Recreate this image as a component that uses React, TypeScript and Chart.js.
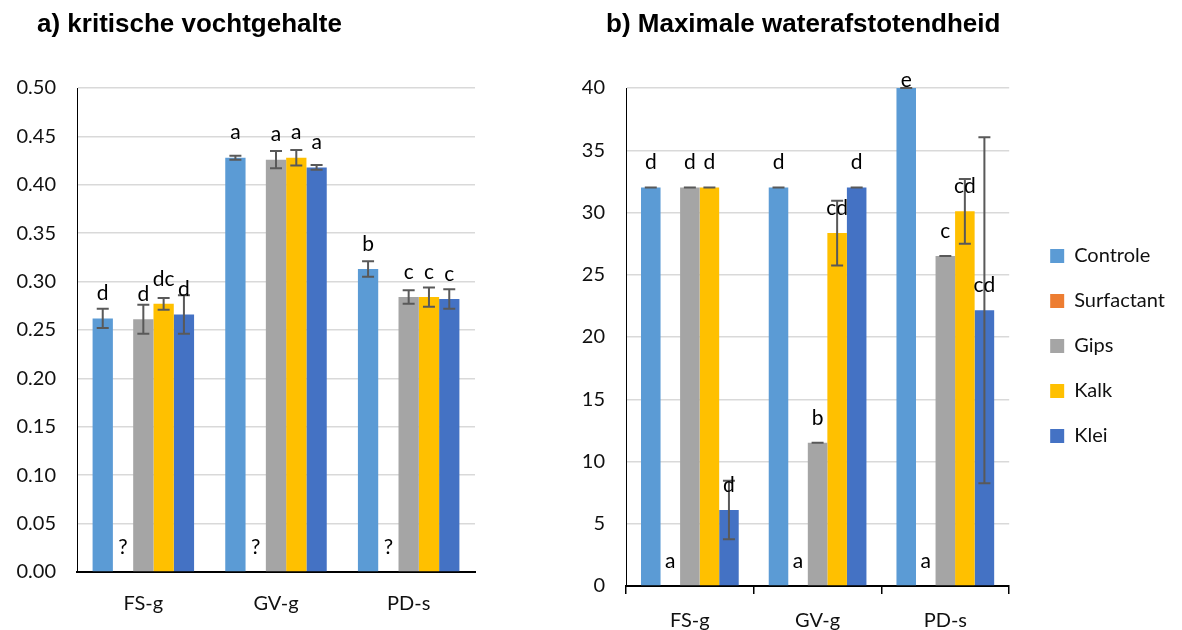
import React, { useEffect, useRef } from "react";
import { Chart, registerables } from "chart.js";

Chart.register(...registerables);

// ---------- data ----------
const categories = ["FS-g", "GV-g", "PD-s"];
const seriesNames = ["Controle", "Surfactant", "Gips", "Kalk", "Klei"];
const seriesColors = ["#5B9BD5", "#ED7D31", "#A5A5A5", "#FFC000", "#4472C4"];

// a) kritische vochtgehalte
const aControle = [0.262, 0.428, 0.313];
const aSurfactant = [0, 0, 0];
const aGips = [0.261, 0.426, 0.284];
const aKalk = [0.277, 0.428, 0.284];
const aKlei = [0.266, 0.418, 0.282];

const aErrControle = [0.01, 0.002, 0.008];
const aErrSurfactant = [null, null, null];
const aErrGips = [0.015, 0.009, 0.007];
const aErrKalk = [0.006, 0.008, 0.01];
const aErrKlei = [0.02, 0.0025, 0.01];

const aLetControle = ["d", "a", "b"];
const aLetSurfactant = ["?", "?", "?"];
const aLetGips = ["d", "a", "c"];
const aLetKalk = ["dc", "a", "c"];
const aLetKlei = ["d", "a", "c"];

const aTicks = { min: 0, max: 0.5, step: 0.05 };

// b) Maximale waterafstotendheid
const bControle = [32, 32, 40];
const bSurfactant = [0, 0, 0];
const bGips = [32, 11.5, 26.5];
const bKalk = [32, 28.35, 30.1];
const bKlei = [6.1, 32, 22.15];

const bErrControle = [0, 0, 0];
const bErrSurfactant = [null, null, null];
const bErrGips = [0, 0, 0];
const bErrKalk = [0, 2.6, 2.6];
const bErrKlei = [2.35, 0, 13.9];

const bLetControle = ["d", "d", "e"];
const bLetSurfactant = ["a", "a", "a"];
const bLetGips = ["d", "b", "c"];
const bLetKalk = ["d", "cd", "cd"];
const bLetKlei = ["d", "d", "cd"];

const bTicks = { min: 0, max: 40, step: 5 };

const titleA = "a) kritische vochtgehalte";
const titleB = "b) Maximale waterafstotendheid";

// ---------- styling ----------
const FONT = "Lato, 'Open Sans', sans-serif";
const TEXT = "#111111";

function buildDatasets(values: number[][], errors: (number | null)[][], letters: string[][]) {
  return seriesNames.map((name, i) => ({
    label: name,
    data: values[i],
    backgroundColor: seriesColors[i],
    borderWidth: 0,
    errors: errors[i],
    letters: letters[i],
  }));
}

const errorBarsPlugin = {
  id: "errorBars",
  afterDatasetsDraw(chart: any) {
    const ctx = chart.ctx;
    const y = chart.scales.y;
    chart.data.datasets.forEach((ds: any, i: number) => {
      if (!ds.errors) return;
      const meta = chart.getDatasetMeta(i);
      meta.data.forEach((el: any, j: number) => {
        const e = ds.errors[j];
        if (e == null) return;
        const v = ds.data[j];
        const top = y.getPixelForValue(v + e);
        const bot = y.getPixelForValue(v - e);
        ctx.save();
        ctx.strokeStyle = "#595959";
        ctx.lineWidth = 2;
        ctx.beginPath();
        ctx.moveTo(el.x, top);
        ctx.lineTo(el.x, bot);
        ctx.moveTo(el.x - 6, top);
        ctx.lineTo(el.x + 6, top);
        ctx.moveTo(el.x - 6, bot);
        ctx.lineTo(el.x + 6, bot);
        ctx.stroke();
        ctx.restore();
      });
    });
  },
};

const lettersPlugin = {
  id: "letters",
  afterDraw(chart: any) {
    const ctx = chart.ctx;
    const area = chart.chartArea;
    ctx.save();
    ctx.font = `21px ${FONT}`;
    ctx.fillStyle = "#000";
    ctx.textAlign = "center";
    ctx.textBaseline = "middle";
    chart.data.datasets.forEach((ds: any, i: number) => {
      if (!ds.letters) return;
      const meta = chart.getDatasetMeta(i);
      meta.data.forEach((el: any, j: number) => {
        const t = ds.letters[j];
        if (!t) return;
        const yy = Math.max(el.y - 25, area.top - 8);
        ctx.fillText(t, el.x, yy);
      });
    });
    ctx.restore();
  },
};

const headingPlugin = {
  id: "heading",
  afterDraw(chart: any, _args: any, opts: any) {
    if (!opts || !opts.text) return;
    const ctx = chart.ctx;
    ctx.save();
    ctx.font = `bold 26px 'Liberation Sans', Arial, sans-serif`;
    ctx.fillStyle = "#000";
    ctx.textAlign = "left";
    ctx.textBaseline = "alphabetic";
    ctx.fillText(opts.text, opts.x, opts.y);
    ctx.restore();
  },
};

function yScale(t: { min: number; max: number; step: number }, width: number, decimals: number) {
  return {
    min: t.min,
    max: t.max,
    ticks: {
      stepSize: t.step,
      padding: 21,
      color: TEXT,
      font: { family: FONT, size: 20 },
      callback: (v: any) => Number(v).toFixed(decimals),
    },
    grid: { color: "#D9D9D9", lineWidth: 1.5, drawTicks: false },
    border: { display: true, color: "#000", width: 1 },
    afterFit: (s: any) => {
      s.width = width;
    },
  };
}

export default function App() {
  const leftRef = useRef<HTMLCanvasElement | null>(null);
  const rightRef = useRef<HTMLCanvasElement | null>(null);

  useEffect(() => {
    const left = new Chart(leftRef.current as HTMLCanvasElement, {
      type: "bar",
      data: {
        labels: categories,
        datasets: buildDatasets(
          [aControle, aSurfactant, aGips, aKalk, aKlei],
          [aErrControle, aErrSurfactant, aErrGips, aErrKalk, aErrKlei],
          [aLetControle, aLetSurfactant, aLetGips, aLetKalk, aLetKlei]
        ) as any,
      },
      options: {
        responsive: false,
        animation: false,
        categoryPercentage: 0.765,
        barPercentage: 1,
        layout: { padding: { top: 88, left: 0, right: 65, bottom: 8 } },
        plugins: {
          legend: { display: false },
          tooltip: { enabled: false },
          heading: { text: titleA, x: 37, y: 32 },
        } as any,
        scales: {
          x: {
            ticks: { padding: 20, color: TEXT, font: { family: FONT, size: 20 } },
            grid: { display: false, drawTicks: false },
            border: { display: true, color: "#000", width: 2 },
            afterFit: (s: any) => {
              s.height = 50;
            },
          },
          y: yScale(aTicks, 77, 2),
        } as any,
      },
      plugins: [errorBarsPlugin, lettersPlugin, headingPlugin],
    });

    const right = new Chart(rightRef.current as HTMLCanvasElement, {
      type: "bar",
      data: {
        labels: categories,
        datasets: buildDatasets(
          [bControle, bSurfactant, bGips, bKalk, bKlei],
          [bErrControle, bErrSurfactant, bErrGips, bErrKalk, bErrKlei],
          [bLetControle, bLetSurfactant, bLetGips, bLetKalk, bLetKlei]
        ) as any,
      },
      options: {
        responsive: false,
        animation: false,
        categoryPercentage: 0.765,
        barPercentage: 1,
        layout: { padding: { top: 88, left: 0, right: 7, bottom: 0 } },
        plugins: {
          legend: {
            display: true,
            position: "right",
            align: "center",
            fullSize: false,
            maxWidth: 220,
            title: { display: true, text: " ", font: { size: 10 }, padding: 3 },
            labels: {
              boxWidth: 14,
              boxHeight: 14,
              padding: 25,
              color: TEXT,
              font: { family: FONT, size: 20 },
            },
          },
          tooltip: { enabled: false },
          heading: { text: titleB, x: 46, y: 32 },
        } as any,
        scales: {
          x: {
            ticks: { padding: 15, color: TEXT, font: { family: FONT, size: 20 } },
            grid: { display: true, drawOnChartArea: false, drawTicks: true, tickLength: 8, color: "#000", lineWidth: 1.5 },
            border: { display: true, color: "#000", width: 2 },
            afterFit: (s: any) => {
              s.height = 44;
            },
          },
          y: yScale(bTicks, 66, 0),
          spacer: {
            type: "linear",
            position: "right",
            display: true,
            ticks: { display: false },
            grid: { display: false, drawTicks: false },
            border: { display: false },
            afterFit: (s: any) => {
              s.width = 16;
            },
          },
        } as any,
      },
      plugins: [errorBarsPlugin, lettersPlugin, headingPlugin],
    });

    return () => {
      left.destroy();
      right.destroy();
    };
  }, []);

  return (
    <div style={{ position: "fixed", left: 0, top: 0, width: 1182, height: 630, background: "#fff" }}>
      <canvas
        ref={leftRef}
        width={540}
        height={630}
        style={{ position: "absolute", left: 0, top: 0, width: 540, height: 630 }}
      />
      <canvas
        ref={rightRef}
        width={622}
        height={630}
        style={{ position: "absolute", left: 560, top: 0, width: 622, height: 630 }}
      />
    </div>
  );
}
